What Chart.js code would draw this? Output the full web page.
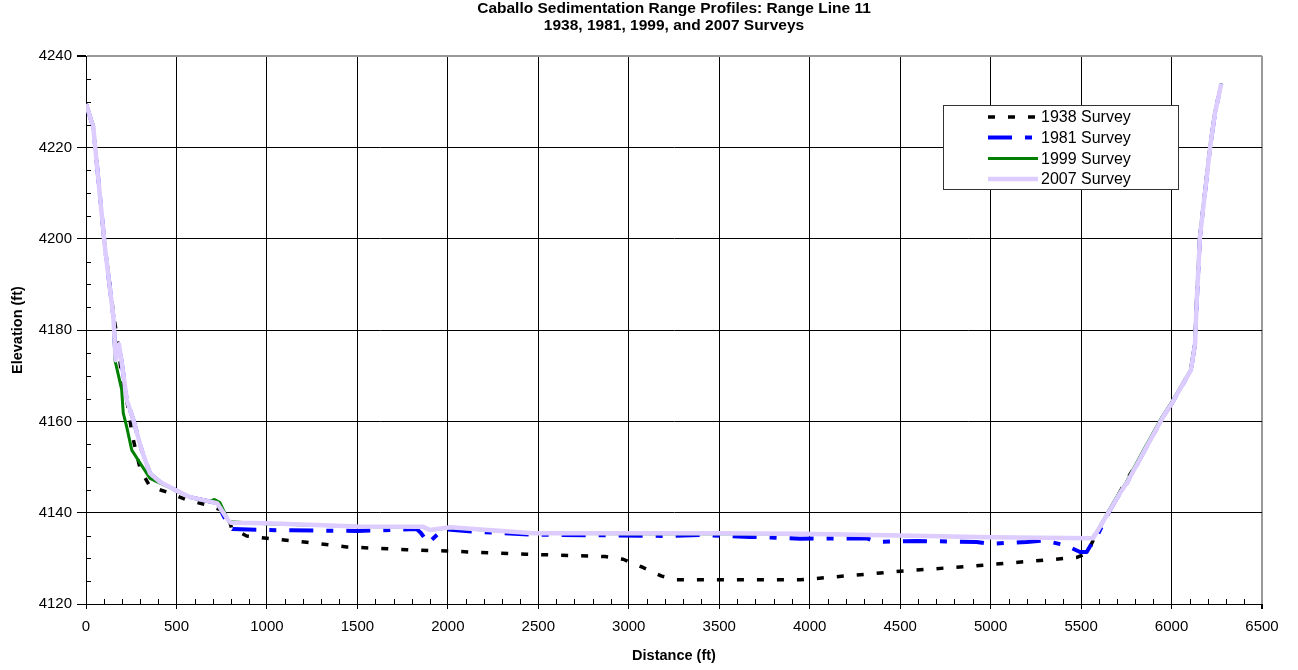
<!DOCTYPE html>
<html>
<head>
<meta charset="utf-8">
<title>Caballo Range Line 11</title>
<script src="https://cdn.jsdelivr.net/npm/chart.js@4/dist/chart.umd.min.js"></script>
<style>
    body { margin: 0; background: #fff; }
    canvas { display: block; }
</style>
</head>
<body>
<canvas id="profile-chart" width="1298" height="670"></canvas>
<script>

// <-- survey data (distance ft, elevation ft) -->

const dist1938 = [0, 40, 105, 142, 151, 170, 197, 238, 253, 300, 354, 464, 556, 667, 778, 805, 888, 999,
    1220, 1441, 1772, 1994, 2436, 2869, 2969, 3079, 3182, 3265, 3947, 4039, 4481, 4958, 5476, 5540,
    5559, 5594, 5660, 5743, 5842, 5953, 6002, 6107, 6130, 6139, 6157, 6213, 6240, 6275];
const elev1938 = [4229.5, 4224.5, 4198, 4187, 4183.5, 4179, 4170, 4162, 4157.4, 4149.5, 4145.7, 4144.3, 4142.8, 4141.7, 4140.2, 4136.6, 4134.9, 4134.4,
    4133.5, 4132.5, 4131.9, 4131.6, 4130.9, 4130.4, 4129.8, 4128, 4126.1, 4125.3, 4125.3, 4125.6, 4127.1, 4128.5, 4130.2, 4131.2,
    4133.3, 4136.2, 4140.6, 4146.6, 4153, 4161, 4164, 4171.2, 4177, 4186, 4200.4, 4220, 4227.5, 4234];

const dist1981 = [0, 40, 105, 151, 164, 182, 206, 225, 262, 308, 354, 409, 492, 575, 724, 790, 810, 1000,
    1500, 1828, 1850, 1892, 1920, 1975, 2159, 2472, 3206, 3394, 3670, 3947, 4315, 4370, 4591, 4923,
    4996, 5200, 5292, 5411, 5494, 5531, 5559, 5586, 5660, 5715, 5753, 5842, 5953, 6002, 6107, 6130,
    6139, 6157, 6213, 6240, 6275];
const elev1981 = [4229.5, 4224.5, 4198, 4183, 4173.5, 4177, 4170.5, 4164.7, 4160.3, 4153.7, 4148.6, 4146.7, 4145, 4143.4, 4142.1, 4137, 4136.4, 4136.2,
    4136, 4136.4, 4135.6, 4133.3, 4134.4, 4136.4, 4135.8, 4135.2, 4134.9, 4135.1, 4134.7, 4134.3, 4134.4, 4133.6, 4133.8, 4133.6,
    4133.2, 4133.6, 4133.9, 4132.9, 4131.4, 4131.4, 4133.3, 4134.7, 4140.6, 4144.3, 4146.5, 4153, 4161, 4164, 4171.2, 4177,
    4186, 4200.4, 4220, 4227.5, 4234];

const dist1999 = [0, 40, 105, 151, 160, 197, 206, 225, 253, 354, 391, 492, 575, 680, 710, 740, 790, 1000,
    1500, 1864, 1901, 2012, 2472, 3000, 3500, 3947, 4500, 5000, 5560, 5594, 5655, 5710, 5748, 5836, 5948,
    5998, 6104, 6128, 6137, 6155, 6211, 6238, 6275];
const elev1999 = [4229.5, 4224.5, 4198, 4183, 4173.4, 4167, 4161.8, 4158.8, 4153.7, 4147.5, 4146.8, 4145, 4143.4, 4142.4, 4142.9, 4142.2, 4138, 4137.6,
    4137, 4136.8, 4136.2, 4136.7, 4135.5, 4135.4, 4135.4, 4135.4, 4135, 4134.6, 4134.4, 4136.2, 4140.6, 4144.3, 4146.5, 4153, 4161,
    4164, 4171.2, 4177, 4186, 4200.4, 4220, 4227.5, 4234];

const dist2007 = [0, 40, 105, 151, 164, 182, 206, 225, 262, 308, 354, 409, 492, 575, 724, 785, 800, 1000,
    1500, 1864, 1901, 2012, 2472, 3000, 3500, 3947, 4500, 5000, 5566, 5594, 5660, 5715, 5753, 5842,
    5953, 6002, 6107, 6130, 6139, 6157, 6213, 6240, 6275];
const elev2007 = [4229.5, 4224.5, 4198, 4183, 4173.4, 4176.9, 4170.5, 4164.7, 4160.3, 4153.7, 4148.6, 4146.7, 4145, 4143.4, 4142.1, 4138.4, 4137.8, 4137.7,
    4137, 4136.9, 4136.2, 4136.8, 4135.5, 4135.5, 4135.5, 4135.4, 4135, 4134.6, 4134.4, 4136.2, 4140.6, 4144.3, 4146.5, 4153,
    4161, 4164, 4171.2, 4177, 4186, 4200.4, 4220, 4227.5, 4234];

const seriesNames = ["1938 Survey", "1981 Survey", "1999 Survey", "2007 Survey"];
const xTicks = [0, 6500, 500];      // min, max, step
const yTicks = [4120, 4240, 20];

const FONT = "'Liberation Sans', Arial, Helvetica, sans-serif";

// pair up distance / elevation arrays for the library
const toPoints = (xs, ys) => xs.map((x, i) => ({ x: x, y: ys[i] }));

// line looks for each survey
const styles = [
    { color: '#000000', width: 3.5, dash: [7, 13] },
    { color: '#0000FF', width: 4, dash: [24, 13, 7, 13] },
    { color: '#008000', width: 3, dash: [] },
    { color: '#DDCCFF', width: 4.5, dash: [] }
];

const allPoints = [
    toPoints(dist1938, elev1938),
    toPoints(dist1981, elev1981),
    toPoints(dist1999, elev1999),
    toPoints(dist2007, elev2007)
];

const datasets = allPoints.map((pts, i) => ({
    label: seriesNames[i],
    data: pts,
    showLine: true,
    borderColor: styles[i].color,
    backgroundColor: styles[i].color,
    borderWidth: styles[i].width,
    borderDash: styles[i].dash,
    borderCapStyle: 'butt',
    borderJoinStyle: 'round',
    pointRadius: 0,
    tension: 0,
    order: 4 - i   // 2007 drawn on top
}));


// <-- small inside tick marks + boxed legend -->

const extrasPlugin = {
    id: 'extras',
    afterDraw(chart) {
        const ctx = chart.ctx;
        const xs = chart.scales.x;
        const ys = chart.scales.y;
        const area = chart.chartArea;
        ctx.save();
        ctx.strokeStyle = '#000';
        ctx.lineWidth = 1;
        ctx.beginPath();
        for (let v = xTicks[0]; v <= xTicks[1]; v += 100) {
            if (v % xTicks[2] === 0) continue;
            const px = Math.round(xs.getPixelForValue(v)) + 0.5;
            ctx.moveTo(px, area.bottom);
            ctx.lineTo(px, area.bottom - 5);
        }
        for (let v = yTicks[0]; v <= yTicks[1]; v += 5) {
            if (v % yTicks[2] === 0) continue;
            const py = Math.round(ys.getPixelForValue(v)) + 0.5;
            ctx.moveTo(area.left, py);
            ctx.lineTo(area.left + 5, py);
        }
        ctx.stroke();

        // legend box
        const box = { x: 943.5, y: 105.5, w: 235, h: 84 };
        ctx.fillStyle = '#fff';
        ctx.fillRect(box.x, box.y, box.w, box.h);
        ctx.strokeStyle = '#333';
        ctx.strokeRect(box.x, box.y, box.w, box.h);

        const rows = [117, 137.5, 158.5, 179];
        ctx.font = '16px ' + FONT;
        ctx.textBaseline = 'middle';
        ctx.textAlign = 'left';
        seriesNames.forEach((name, i) => {
            ctx.beginPath();
            ctx.strokeStyle = styles[i].color;
            ctx.lineWidth = styles[i].width;
            ctx.setLineDash(styles[i].dash);
            ctx.lineCap = 'butt';
            ctx.moveTo(988, rows[i]);
            ctx.lineTo(1038, rows[i]);
            ctx.stroke();
            ctx.setLineDash([]);
            ctx.fillStyle = '#000';
            ctx.fillText(name, 1041, rows[i] + 1);
        });
        ctx.restore();
    }
};


// <-- the chart itself -->

const profileCanvas = document.getElementById("profile-chart");

const profileChart = new Chart(profileCanvas, {
    type: 'scatter',
    data: { datasets: datasets },
    options: {
        responsive: false,
        animation: false,
        layout: { padding: { left: 0, right: 36, top: 0, bottom: 0 } },
        scales: {
            x: {
                type: 'linear',
                min: xTicks[0],
                max: xTicks[1],
                afterFit: scale => { scale.height = 66; },
                ticks: {
                    stepSize: xTicks[2],
                    color: '#000',
                    padding: 9,
                    font: { family: FONT, size: 15 },
                    maxRotation: 0,
                    callback: value => String(value)
                },
                grid: {
                    color: ctx => ctx.tick && ctx.tick.value === xTicks[1] ? '#999' : '#000',
                    lineWidth: ctx => ctx.tick && ctx.tick.value === xTicks[1] ? 2 : 1,
                    tickColor: '#000',
                    tickLength: 5
                },
                border: { color: '#000', width: 1 },
                title: {
                    display: true,
                    text: 'Distance (ft)',
                    color: '#000',
                    font: { family: FONT, size: 14.5, weight: 'bold' },
                    padding: { top: 0, bottom: 5 }
                }
            },
            y: {
                type: 'linear',
                min: yTicks[0],
                max: yTicks[1],
                afterFit: scale => { scale.width = 86; },
                ticks: {
                    stepSize: yTicks[2],
                    color: '#000',
                    padding: 5,
                    font: { family: FONT, size: 15 },
                    callback: value => String(value)
                },
                grid: {
                    color: ctx => ctx.tick && ctx.tick.value === yTicks[1] ? '#999' : '#000',
                    lineWidth: ctx => ctx.tick && ctx.tick.value === yTicks[1] ? 2 : 1,
                    tickColor: '#000',
                    tickLength: 9
                },
                border: { color: '#000', width: 1 },
                title: {
                    display: true,
                    text: 'Elevation (ft)',
                    color: '#000',
                    font: { family: FONT, size: 14.5, weight: 'bold' },
                    padding: { top: 9, bottom: 0 }
                }
            }
        },
        plugins: {
            legend: { display: false },
            tooltip: { enabled: false },
            title: {
                display: true,
                fullSize: false,
                text: ['Caballo Sedimentation Range Profiles: Range Line 11', '1938, 1981, 1999, and 2007 Surveys'],
                color: '#000',
                font: { family: FONT, size: 15.5, weight: 'bold', lineHeight: 1.1 },
                padding: { top: 0, bottom: 22 }
            }
        }
    },
    plugins: [extrasPlugin]
});

</script>
</body>
</html>
